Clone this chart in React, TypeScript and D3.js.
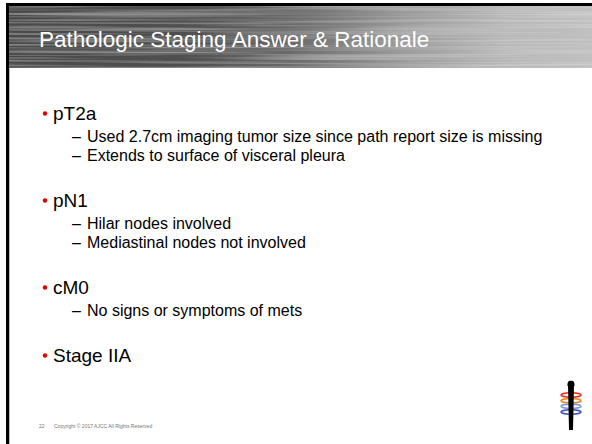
import React, { useEffect, useRef } from 'react';
import * as d3 from 'd3';

const title = 'Pathologic Staging Answer & Rationale';

const heads = ['pT2a', 'pN1', 'cM0', 'Stage IIA'];

const subs: string[][] = [
  ['Used 2.7cm imaging tumor size since path report size is missing', 'Extends to surface of visceral pleura'],
  ['Hilar nodes involved', 'Mediastinal nodes not involved'],
  ['No signs or symptoms of mets'],
  [],
];

const footer = ['22', 'Copyright \u00a9 2017  AJCC  All Rights Reserved'];

const ringColors = ['#e8322c', '#f08a1c', '#7f9ad6', '#3d55b4'];

const W = 592;
const H = 444;
const font = 'Liberation Sans, Arial, sans-serif';

const App: React.FC = () => {
  const svgRef = useRef<SVGSVGElement>(null);

  useEffect(() => {
    if (!svgRef.current) return;
    const svg = d3.select(svgRef.current);
    svg.selectAll('*').remove();

    const defs = svg.append('defs');
    const grad = defs.append('linearGradient').attr('id', 'metal').attr('x1', 0).attr('x2', 1).attr('y1', 0).attr('y2', 0);
    [
      [0, '#4a4a4a'],
      [0.3, '#505050'],
      [0.48, '#6a6a6a'],
      [0.68, '#9c9c9c'],
      [0.85, '#b8b8b8'],
      [1, '#c0c0c0'],
    ].forEach(([o, c]) => grad.append('stop').attr('offset', o as number).attr('stop-color', c as string));

    // brushed metal streaks
    const f = defs.append('filter').attr('id', 'brush').attr('x', 0).attr('y', 0).attr('width', 1).attr('height', 1);
    f.append('feTurbulence').attr('type', 'fractalNoise').attr('baseFrequency', '0.004 0.45').attr('numOctaves', 2).attr('seed', 3).attr('result', 'n');
    f.append('feColorMatrix').attr('in', 'n').attr('type', 'matrix')
      .attr('values', '0 0 0 0 1  0 0 0 0 1  0 0 0 0 1  0.6 0 0 0 -0.25').attr('result', 'w');
    f.append('feComposite').attr('in', 'w').attr('in2', 'SourceGraphic').attr('operator', 'atop');

    svg.append('rect').attr('width', W).attr('height', H).attr('fill', '#fff');

    // header band
    svg.append('rect').attr('x', 9).attr('y', 6).attr('width', W - 9).attr('height', 62)
      .attr('fill', 'url(#metal)').attr('filter', 'url(#brush)');

    // frame
    svg.append('rect').attr('x', 6).attr('y', 3).attr('width', W - 6).attr('height', 3).attr('fill', '#000');
    svg.append('rect').attr('x', 6).attr('y', 3).attr('width', 3).attr('height', H - 3).attr('fill', '#000');
    svg.append('rect').attr('x', 9).attr('y', 68).attr('width', 1).attr('height', H - 68).attr('fill', '#bbb');

    svg.append('text').attr('x', 39).attr('y', 47)
      .attr('font-family', font).attr('font-size', 22.5)
      .attr('fill', '#fff').text(title);

    // bullets
    let y = 120;
    const g = svg.append('g');
    heads.forEach((h, i) => {
      g.append('circle').attr('cx', 45).attr('cy', y - 6.5).attr('r', 2.2).attr('fill', '#e00000');
      g.append('text').attr('x', 53).attr('y', y).attr('font-family', font).attr('font-size', 19).attr('fill', '#000').text(h);
      let sy = y;
      subs[i].forEach((s, j) => {
        sy += j === 0 ? 22 : 19;
        g.append('text').attr('x', 72).attr('y', sy).attr('font-family', font).attr('font-size', 16).attr('fill', '#000').text('\u2013');
        g.append('text').attr('x', 87).attr('y', sy).attr('font-family', font).attr('font-size', 16).attr('fill', '#000').text(s);
      });
      y = sy + 46;
    });

    // footer
    svg.append('text').attr('x', 39).attr('y', 428).attr('font-family', font).attr('font-size', 5).attr('fill', '#777').text(footer[0]);
    svg.append('text').attr('x', 54).attr('y', 428).attr('font-family', font).attr('font-size', 5).attr('fill', '#777').text(footer[1]);

    // logo
    const logo = svg.append('g').attr('transform', 'translate(571,381)');
    const ringY = d3.scaleLinear().domain([0, ringColors.length - 1]).range([14, 31]);
    ringColors.forEach((c, i) => {
      logo.append('ellipse').attr('cx', 0).attr('cy', ringY(i)).attr('rx', 10).attr('ry', 2.2)
        .attr('fill', 'none').attr('stroke', c).attr('stroke-width', 1.6);
    });
    logo.append('path').attr('d', 'M-3,4 L3,4 L2,49 L-2,49 Z').attr('fill', '#000');
    logo.append('path').attr('d', 'M-3.5,5 C-4,1 -2,-1 0,0 C2,-1 4,1 3.5,5 Z').attr('fill', '#000');
  }, []);

  return <svg ref={svgRef} width={W} height={H} style={{ display: 'block', position: 'absolute', left: 0, top: 0 }} />;
};

export default App;
